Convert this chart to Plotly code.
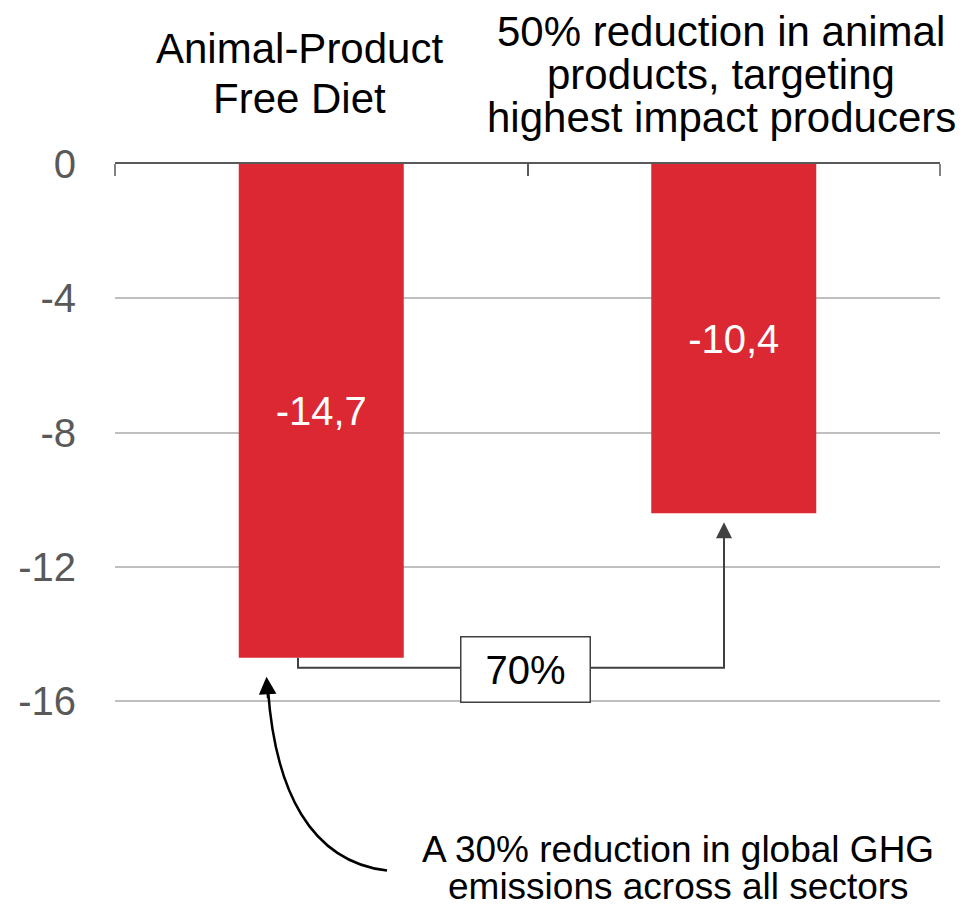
import plotly.graph_objects as go

# ---- data ----
categories = ["Animal-Product\nFree Diet",
              "50% reduction in animal\nproducts, targeting\nhighest impact producers"]
values = [-14.7, -10.4]
value_labels = ["-14,7", "-10,4"]
y_tickvals = [0, -4, -8, -12, -16]
y_ticktext = ["0", "-4", "-8", "-12", "-16"]
share_label = "70%"
note_lines = ["A 30% reduction in global GHG", "emissions across all sectors"]

# ---- geometry (page pixels; page has an 8px body margin) ----
OFF = 8
W, H = 966 - OFF, 913 - OFF
PL, PR, PT = 115, 940, 164          # plot edges on the page
Y_MIN = -21.5
PB = PT + 33.6 * (-Y_MIN)           # plot bottom on the page
L = PL - OFF
R = W - (PR - OFF)
T = PT - OFF
B = H - (PB - OFF)
X0, X1 = -0.5, 1.5

def px_x(p):
    return (p - PL) / (PR - PL) * (X1 - X0) + X0
def px_y(p):
    return -(p - PT) / (PB - PT) * (-Y_MIN)
def px_paper_y(p):
    return 1 - (p - PT) / (PB - PT)

FONT = "Arial, Liberation Sans, sans-serif"
RED = "#DB2833"
DARK = "#404040"
AXIS = "#595959"

fig = go.Figure()
fig.add_trace(go.Bar(
    x=[0, 1], y=values, width=0.4,
    marker=dict(color=RED, line=dict(width=0)),
    text=value_labels, textposition="inside", insidetextanchor="middle",
    textfont=dict(color="white", size=40, family=FONT),
    constraintext="none", hoverinfo="skip", showlegend=False,
))

# connector between bars
x_left = px_x(298)
x_right = px_x(724)
y_conn = px_y(668)
fig.add_trace(go.Scatter(
    x=[x_left, x_left, x_right, x_right],
    y=[values[0], y_conn, y_conn, px_y(560)],
    mode="lines", line=dict(color=DARK, width=2),
    hoverinfo="skip", showlegend=False,
))

annotations = []
# arrowhead on connector (tip slightly below bar end)
annotations.append(dict(
    x=x_right, y=values[1] + px_y(PT + 9),
    ax=x_right, ay=px_y(580), xref="x", yref="y", axref="x", ayref="y",
    text="", showarrow=True, arrowhead=2, arrowsize=1.6, arrowwidth=2, arrowcolor=DARK,
))
# 70% box
annotations.append(dict(
    x=px_x(525.5), y=px_y(669.5), xref="x", yref="y", text=share_label, showarrow=False,
    font=dict(size=40, color="black", family=FONT),
    bgcolor="white", bordercolor=DARK, borderwidth=1.5, borderpad=0,
    width=128, height=64, xanchor="center", yanchor="middle",
))

# category labels, one annotation per line
label_x = [px_x(299), px_x(721)]
label_line_y = [[48, 98], [31, 74, 117]]
for cat, lx, ys in zip(categories, label_x, label_line_y):
    for line, py in zip(cat.split("\n"), ys):
        annotations.append(dict(
            x=lx, y=px_paper_y(py), xref="x", yref="paper", text=line, showarrow=False,
            font=dict(size=42, color="black", family=FONT),
            xanchor="center", yanchor="middle",
        ))

# note text
for line, py in zip(note_lines, [850, 887]):
    annotations.append(dict(
        x=px_x(678), y=px_paper_y(py), xref="x", yref="paper", text=line, showarrow=False,
        font=dict(size=37, color="black", family=FONT),
        xanchor="center", yanchor="middle",
    ))

# curved arrow
p0 = (px_x(387), px_y(871))
c1 = (px_x(310), px_y(862))
c2 = (px_x(275), px_y(790))
p3 = (px_x(268), px_y(690))
path = "M {} {} C {} {}, {} {}, {} {}".format(p0[0], p0[1], c1[0], c1[1], c2[0], c2[1], p3[0], p3[1])
shapes = [dict(type="path", path=path, xref="x", yref="y", line=dict(color="black", width=2.5))]
annotations.append(dict(
    x=px_x(266.5), y=px_y(677), ax=px_x(268), ay=px_y(700),
    xref="x", yref="y", axref="x", ayref="y",
    text="", showarrow=True, arrowhead=2, arrowsize=1.6, arrowwidth=2.2, arrowcolor="black",
))
# category boundary ticks at the plot edges
for xp in (0, 1):
    shapes.append(dict(type="line", xref="paper", yref="paper", x0=xp, x1=xp,
                       y0=1, y1=px_paper_y(PT + 12), line=dict(color=AXIS, width=1.5)))

fig.update_layout(
    width=W, height=H,
    margin=dict(l=L, r=R, t=T, b=B, autoexpand=False),
    paper_bgcolor="white", plot_bgcolor="white",
    font=dict(family=FONT),
    showlegend=False,
    annotations=annotations,
    shapes=shapes,
    xaxis=dict(
        range=[X0, X1], side="top", showline=True, linecolor=AXIS, linewidth=1.5,
        ticks="inside", ticklen=12, tickcolor=AXIS, tickwidth=1.5,
        tickvals=[0.5], showticklabels=False,
        showgrid=False, zeroline=False, fixedrange=True, automargin=False,
    ),
    yaxis=dict(
        range=[Y_MIN, 0], tickvals=y_tickvals, ticktext=y_ticktext,
        tickfont=dict(size=40, color=AXIS, family=FONT),
        ticks="outside", ticklen=30, tickcolor="rgba(0,0,0,0)",
        showgrid=True, gridcolor="#BFBFBF", gridwidth=1.5,
        zeroline=False, showline=False, fixedrange=True, automargin=False,
    ),
)

fig.write_html("out.html")
